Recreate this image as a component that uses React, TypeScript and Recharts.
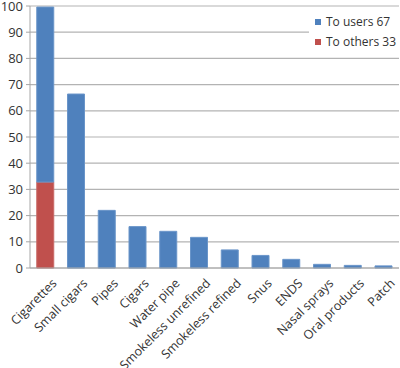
import { BarChart, Bar, XAxis, YAxis, CartesianGrid } from "recharts";

const categories = [
    "Cigarettes",
    "Small cigars",
    "Pipes",
    "Cigars",
    "Water pipe",
    "Smokeless unrefined",
    "Smokeless refined",
    "Snus",
    "ENDS",
    "Nasal sprays",
    "Oral products",
    "Patch",
];
const toOthers = [32.8, 0, 0, 0, 0, 0, 0, 0, 0, 0, 0, 0];
const toUsers = [66.8, 66.4, 22, 15.8, 14, 11.7, 6.9, 4.8, 3.3, 1.4, 1.0, 0.8];
const yTicks = [0, 10, 20, 30, 40, 50, 60, 70, 80, 90, 100];

const data = categories.map((name, i) => ({
    name,
    others: toOthers[i],
    users: toUsers[i],
}));

const FONT = "'Open Sans', sans-serif";
const BLUE = "#4F81BD";
const RED = "#C0504D";

const AngledTick = ({ x, y, payload }: any) => (
    <g transform={`translate(${x + 9},${y + 5})`}>
        <text
            transform="rotate(-45)"
            textAnchor="end"
            dy="0.35em"
            fontSize={12.5}
            fontFamily={FONT}
            fill="#333"
        >
            {payload.value}
        </text>
    </g>
);

const LegendBox = () => (
    <div
        style={{
            position: "absolute",
            left: 309,
            top: 10,
            width: 91,
            height: 40,
            background: "#fff",
            fontFamily: FONT,
            fontSize: 12,
            color: "#333",
        }}
    >
        {[
            { label: "To users 67", color: BLUE },
            { label: "To others 33", color: RED },
        ].map((item, i) => (
            <div
                key={item.label}
                style={{
                    position: "absolute",
                    left: 6,
                    top: 3 + i * 20,
                    display: "flex",
                    alignItems: "center",
                    whiteSpace: "nowrap",
                }}
            >
                <span
                    style={{
                        width: 6,
                        height: 6,
                        background: item.color,
                        marginRight: 5,
                        display: "inline-block",
                    }}
                />
                {item.label}
            </div>
        ))}
    </div>
);

export default function App() {
    return (
        <div style={{ position: "absolute", left: 0, top: 0, width: 400, height: 368, background: "#fff" }}>
            <BarChart
                width={400}
                height={368}
                data={data}
                barCategoryGap="22%"
                margin={{ top: 6, right: 1, left: 0, bottom: 0 }}
            >
                <CartesianGrid vertical={false} stroke="#b3b3b3" strokeWidth={1.2} />
                <XAxis
                    dataKey="name"
                    interval={0}
                    height={100}
                    tickLine={false}
                    axisLine={{ stroke: "#a6a6a6" }}
                    tick={<AngledTick />}
                />
                <YAxis
                    width={30}
                    domain={[0, 100]}
                    ticks={yTicks}
                    interval={0}
                    tickSize={4}
                    tickMargin={3}
                    axisLine={{ stroke: "#a6a6a6" }}
                    tickLine={{ stroke: "#a6a6a6" }}
                    tick={{ fontSize: 13, fontFamily: FONT, fill: "#333" }}
                />
                <Bar dataKey="others" stackId="a" fill={RED} stroke="#c96a67" isAnimationActive={false} />
                <Bar dataKey="users" stackId="a" fill={BLUE} stroke="#6a95c9" isAnimationActive={false} />
            </BarChart>
            <LegendBox />
        </div>
    );
}
